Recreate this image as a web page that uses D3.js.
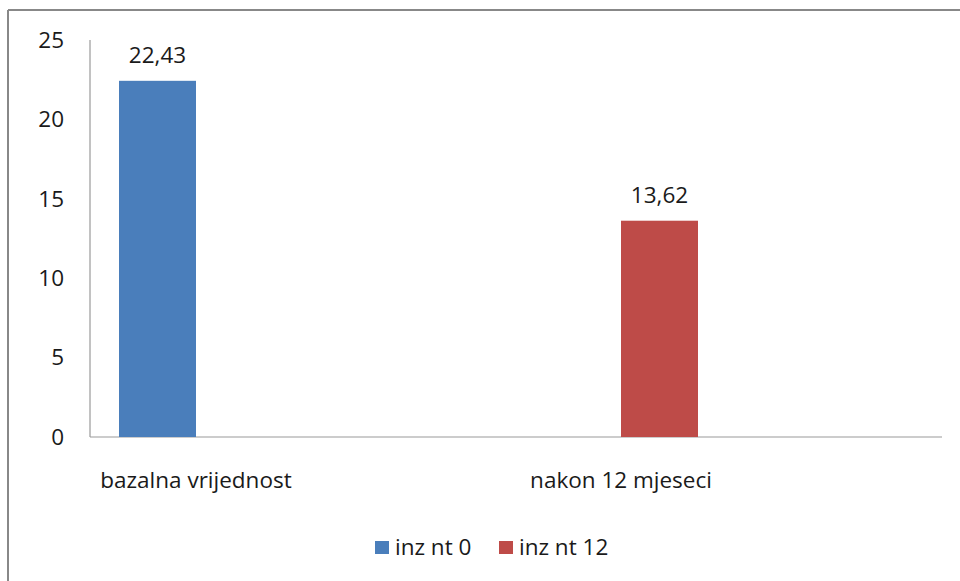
<!DOCTYPE html>
<meta charset="utf-8">
<style>
body { margin: 0; background: #fff; }
text { font-family: "Open Sans", "Liberation Sans", sans-serif; fill: #1a1a1a; }
</style>
<script src="https://d3js.org/d3.v7.min.js"></script>
<body>
<svg id="chart" width="960" height="581"></svg>
<script>
var categories = ["bazalna vrijednost", "nakon 12 mjeseci"];
var series = ["inz nt 0", "inz nt 12"];
// one value per category; each category only has its own series filled
var values = [
  {cat: "bazalna vrijednost", s: "inz nt 0", v: 22.43},
  {cat: "nakon 12 mjeseci", s: "inz nt 12", v: 13.62}
];
var yTicks = [0, 5, 10, 15, 20, 25];
var colors = ["#4a7ebb", "#be4b48"];

var svg = d3.select("#chart");
var fs = "22.5px";

// outer frame (only top and left visible in the picture)
svg.append("line").attr("x1", 8).attr("x2", 960).attr("y1", 10).attr("y2", 10)
  .attr("stroke", "#888").attr("stroke-width", 2);
svg.append("line").attr("x1", 8).attr("x2", 8).attr("y1", 10).attr("y2", 581)
  .attr("stroke", "#888").attr("stroke-width", 2);

var y = d3.scaleLinear().domain([0, 25]).range([437, 40]);
var x0 = d3.scaleBand().domain(categories).range([-16.5, 833.5]);
var x1 = d3.scaleBand().domain(series).range([0, x0.bandwidth()]).paddingOuter(1.76);
var color = d3.scaleOrdinal().domain(series).range(colors);

// axes lines
svg.append("line").attr("x1", 90).attr("x2", 90).attr("y1", y(25)).attr("y2", y(0))
  .attr("stroke", "#999").attr("stroke-width", 1.2);
svg.append("line").attr("x1", 90).attr("x2", 942).attr("y1", y(0)).attr("y2", y(0))
  .attr("stroke", "#999").attr("stroke-width", 1.2);

svg.selectAll(".ytick").data(yTicks).enter().append("text")
  .attr("x", 64).attr("y", d => y(d)).attr("dy", "0.35em")
  .attr("text-anchor", "end").style("font-size", fs).text(d => d);

svg.selectAll(".bar").data(values).enter().append("rect")
  .attr("x", d => x0(d.cat) + x1(d.s))
  .attr("width", x1.bandwidth())
  .attr("y", d => y(d.v))
  .attr("height", d => y(0) - y(d.v))
  .attr("fill", d => color(d.s));

svg.selectAll(".lbl").data(values).enter().append("text")
  .attr("x", d => x0(d.cat) + x1(d.s) + x1.bandwidth() / 2)
  .attr("y", d => y(d.v) - 18)
  .attr("text-anchor", "middle").style("font-size", fs)
  .text(d => d3.format(".2f")(d.v).replace(".", ","));

svg.selectAll(".cat").data(categories).enter().append("text")
  .attr("x", d => x0(d) + x0.bandwidth() / 2).attr("y", 488)
  .attr("text-anchor", "middle").style("font-size", fs).text(d => d);

// legend
var legX = [375, 499];
series.forEach(function(s, i) {
  svg.append("rect").attr("x", legX[i]).attr("y", 541).attr("width", 14).attr("height", 13)
    .attr("fill", color(s));
  svg.append("text").attr("x", legX[i] + 20).attr("y", 555)
    .style("font-size", fs).text(s);
});
</script>
</body>
